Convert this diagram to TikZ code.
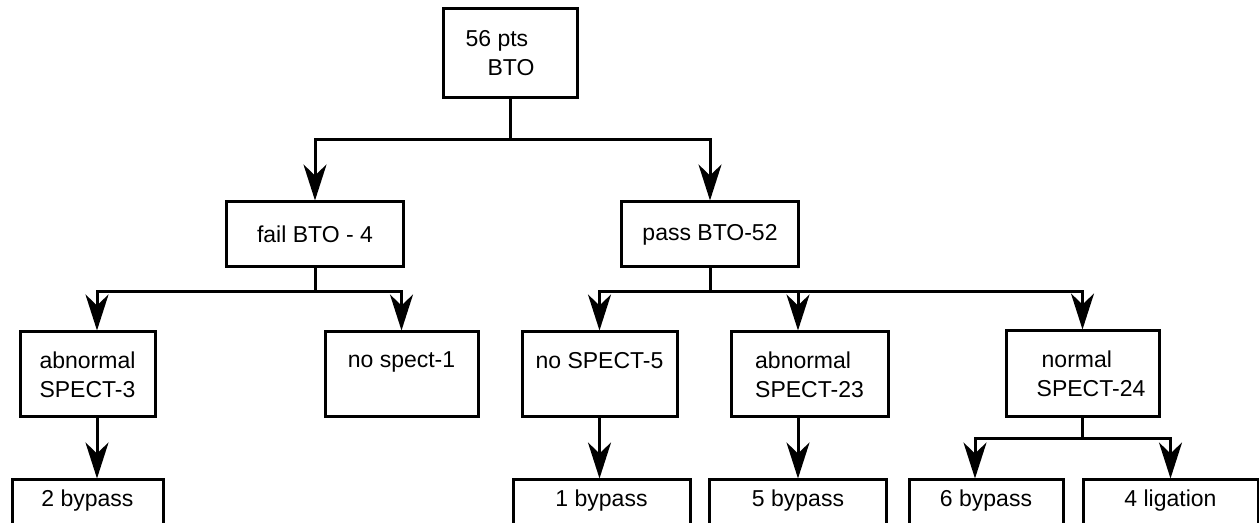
\documentclass[tikz,border=0pt]{standalone}
\usepackage{fontspec}
\setmainfont{Liberation Sans}
\usetikzlibrary{arrows.meta,calc}

\begin{document}
\begin{tikzpicture}[
    x=0.5pt, y=-0.5pt,
    box/.style={rectangle, draw, line width=1.5pt, inner sep=0pt,
                font=\fontsize{11.5}{14.5}\selectfont, align=left},
    arrow/.style={-{Stealth[length=18pt, width=11.5pt, inset=5.5pt]}, line width=1.5pt},
    link/.style={line width=1.5pt}
]
\useasboundingbox (0,0) rectangle (1259,523);

% Level 1 and 2
\node[box, minimum width=67pt, minimum height=44.5pt] (pts) at (510,53.5)
    {56 pts\\\hspace*{11pt}BTO\hspace*{10pt}};
\node[box, minimum width=88.5pt, minimum height=32.5pt] (failbto) at (315,234.5) {fail BTO - 4};
\node[box, minimum width=88.5pt, minimum height=32.5pt] (passbto) at (710,234.5) {pass BTO-52};

% Level 3
\node[box, minimum width=67.5pt, minimum height=42.5pt] (abnthree) at (87.5,374.5) {abnormal\\SPECT-3};
\node[box, minimum width=76.5pt, minimum height=42.5pt] (nospectone) at (401.5,374.5) {no spect-1\\\mbox{}};
\node[box, minimum width=77.5pt, minimum height=42.5pt] (nospectfive) at (599.5,374.5) {no SPECT-5\\\mbox{}};
\node[box, minimum width=78.5pt, minimum height=42.5pt] (abntwentythree) at (809.5,374.5) {abnormal\\SPECT-23};
\node[box, minimum width=76.5pt, minimum height=43pt] (normtwentyfour) at (1082.5,374)
    {\hspace*{11pt}normal\\\hspace*{8.5pt}SPECT-24};

% Level 4 (cut by the page edge)
\node[box, minimum width=75.5pt, minimum height=32.5pt] (bypasstwo) at (87.5,512.5) {2 bypass\\\mbox{}};
\node[box, minimum width=88.5pt, minimum height=32.5pt] (bypassone) at (601.5,512.5) {1 bypass\\\mbox{}};
\node[box, minimum width=88.5pt, minimum height=32.5pt] (bypassfive) at (798,512.5) {5 bypass\\\mbox{}};
\node[box, minimum width=77pt, minimum height=32.5pt] (bypasssix) at (986,512.5) {6 bypass\\\mbox{}};
\node[box, minimum width=87.5pt, minimum height=32.5pt] (ligfour) at (1170.5,512.5) {4 ligation\\\mbox{}};

% Connectors
\draw[link] (pts.south) -- ++(0,40) coordinate (jtop);
\draw[arrow] (jtop) -| (failbto.north);
\draw[arrow] (jtop) -| (passbto.north);

\draw[link] (failbto.south) -- ++(0,23) coordinate (jfail);
\draw[arrow] (jfail) -| ($(abnthree.north)+(9.5,0)$);
\draw[arrow] (jfail) -| (nospectone.north);

\draw[link] (passbto.south) -- ++(0,23) coordinate (jpass);
\draw[arrow] (jpass) -| (nospectfive.north);
\draw[arrow] (jpass) -| ($(abntwentythree.north)+(-11.5,0)$);
\draw[arrow] (jpass) -| (normtwentyfour.north);

\draw[arrow] ($(abnthree.south)+(9.5,0)$) -- ($(bypasstwo.north)+(9.5,0)$);
\draw[arrow] (nospectfive.south) -- (nospectfive.south |- bypassone.north);
\draw[arrow] ($(abntwentythree.south)+(-11.5,0)$) -- (bypassfive.north);

\draw[link] (normtwentyfour.south) -- ++(0,20) coordinate (jnorm);
\draw[arrow] (jnorm) -| ($(bypasssix.north)+(-11,0)$);
\draw[arrow] (jnorm) -| (ligfour.north);

\end{tikzpicture}
\end{document}
